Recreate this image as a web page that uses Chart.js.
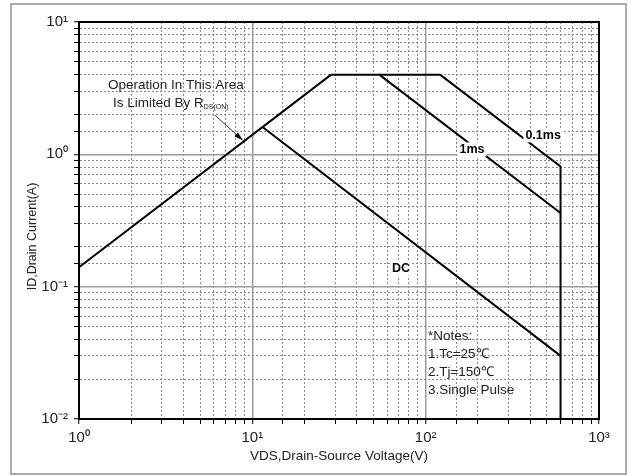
<!DOCTYPE html>
<html>
<head>
<meta charset="utf-8">
<script src="https://cdn.jsdelivr.net/npm/chart.js@4.4.0/dist/chart.umd.min.js"></script>
<style>
  body { margin: 0; background: #fff; }
  canvas { display: block; }
</style>
</head>
<body>
<canvas id="soa" width="632" height="476"></canvas>
<script>
// corner points of the SOA curves (volts, amps)
const rdsVolts = [1, 28.5];
const rdsAmps = [0.14, 4];
const limitVolts = [28.5, 121];
const limitAmps = [4, 4];
const ms01Volts = [121, 600, 600];
const ms01Amps = [4, 0.81, 0.01];
const ms1Volts = [54, 600];
const ms1Amps = [4, 0.36];
const dcVolts = [11.5, 600];
const dcAmps = [1.6, 0.03];

const xDecades = [1, 10, 100, 1000];
const xTickLabels = ['10⁰', '10¹', '10²', '10³'];
const yDecades = [0.01, 0.1, 1, 10];
const yTickLabels = ['10⁻²', '10⁻¹', '10⁰', '10¹'];

// labels next to the curves (volts, amps)
const curveNames = ['0.1ms', '1ms', 'DC'];
const curveNameVolts = [476, 185, 72];
const curveNameAmps = [1.39, 1.09, 0.137];

const notes = ['*Notes:', '1.Tc=25\u2103', '2.Tj=150\u2103', '3.Single Pulse'];

const FONT = "'Liberation Sans', Arial, sans-serif";

function pts(xs, ys) {
  return xs.map((x, i) => ({ x: x, y: ys[i] }));
}

function isDecade(v) {
  const l = Math.log10(v);
  return Math.abs(l - Math.round(l)) < 1e-6;
}

function decadeLabel(v, decades, labels) {
  if (!isDecade(v)) return '';
  const e = Math.round(Math.log10(v));
  const idx = decades.findIndex(d => Math.round(Math.log10(d)) === e);
  return idx < 0 ? '' : labels[idx];
}

function curve(data) {
  return {
    data: data,
    showLine: true,
    borderColor: '#000',
    borderWidth: 2,
    pointRadius: 0,
    fill: false,
    tension: 0
  };
}

function gridFor() {
  return {
    color: c => (c.tick && isDecade(c.tick.value)) ? '#9c9c9c' : '#8a8a8a',
    lineWidth: c => (c.tick && isDecade(c.tick.value)) ? 1.5 : 1,
    tickColor: '#000',
    tickLength: 5,
    tickWidth: 1,
    tickBorderDash: []
  };
}

function borderFor() {
  return {
    display: true,
    color: '#000',
    width: 2,
    dash: c => (c.tick && !isDecade(c.tick.value)) ? [2, 2] : []
  };
}

const extras = {
  id: 'extras',
  beforeDraw(chart) {
    const ctx = chart.ctx;
    ctx.save();
    ctx.fillStyle = '#fff';
    ctx.fillRect(0, 0, chart.width, chart.height);
    ctx.strokeStyle = '#ababab';
    ctx.lineWidth = 2;
    ctx.strokeRect(11, 4, 615, 470);
    ctx.restore();
  },
  afterDatasetsDraw(chart) {
    const ctx = chart.ctx;
    const xs = chart.scales.x, ys = chart.scales.y;
    const a = chart.chartArea;
    ctx.save();

    // curve names on white patches
    ctx.font = 'bold 12.5px ' + FONT;
    ctx.textAlign = 'center';
    ctx.textBaseline = 'middle';
    curveNames.forEach((t, i) => {
      const px = xs.getPixelForValue(curveNameVolts[i]);
      const py = ys.getPixelForValue(curveNameAmps[i]);
      const w = ctx.measureText(t).width;
      ctx.fillStyle = '#fff';
      ctx.fillRect(px - w / 2 - 2, py - 7, w + 4, 14);
      ctx.fillStyle = '#000';
      ctx.fillText(t, px, py);
    });

    // Rds(on) note with arrow
    ctx.fillStyle = '#222';
    ctx.font = '13.5px ' + FONT;
    ctx.textAlign = 'left';
    ctx.fillText('Operation In This Area', xs.getPixelForValue(1.47), ys.getPixelForValue(3.33));
    const lx = xs.getPixelForValue(1.57), ly = ys.getPixelForValue(2.44);
    ctx.fillText('Is Limited By R', lx, ly);
    const rw = ctx.measureText('Is Limited By R').width;
    ctx.font = '7px ' + FONT;
    ctx.fillText('DS(ON)', lx + rw, ly + 4);

    const x0 = xs.getPixelForValue(6.1), y0 = ys.getPixelForValue(1.97);
    const x1 = xs.getPixelForValue(8.8), y1 = ys.getPixelForValue(1.28);
    ctx.strokeStyle = '#333';
    ctx.lineWidth = 1;
    ctx.beginPath();
    ctx.moveTo(x0, y0);
    ctx.lineTo(x1, y1);
    ctx.stroke();
    const ang = Math.atan2(y1 - y0, x1 - x0);
    ctx.fillStyle = '#000';
    ctx.beginPath();
    ctx.moveTo(x1, y1);
    ctx.lineTo(x1 - 9 * Math.cos(ang - 0.3), y1 - 9 * Math.sin(ang - 0.3));
    ctx.lineTo(x1 - 9 * Math.cos(ang + 0.3), y1 - 9 * Math.sin(ang + 0.3));
    ctx.closePath();
    ctx.fill();

    // notes block
    ctx.fillStyle = '#222';
    ctx.font = '13.5px ' + FONT;
    ctx.textAlign = 'left';
    ctx.textBaseline = 'middle';
    const nx = xs.getPixelForValue(103);
    notes.forEach((t, i) => {
      ctx.fillText(t, nx, ys.getPixelForValue(0.0425) + i * 18);
    });

    // y axis title, a little below the middle as in the source
    ctx.save();
    ctx.translate(33, (a.top + a.bottom) / 2 + 16);
    ctx.rotate(-Math.PI / 2);
    ctx.font = '12.5px ' + FONT;
    ctx.textAlign = 'center';
    ctx.fillText('ID,Drain Current(A)', 0, 0);
    ctx.restore();

    // frame of the plot area
    ctx.strokeStyle = '#000';
    ctx.lineWidth = 2;
    ctx.strokeRect(a.left, a.top, a.right - a.left, a.bottom - a.top);
    ctx.restore();
  }
};

new Chart(document.getElementById('soa'), {
  type: 'scatter',
  data: {
    datasets: [
      curve(pts(rdsVolts, rdsAmps)),
      curve(pts(limitVolts, limitAmps)),
      curve(pts(ms01Volts, ms01Amps)),
      curve(pts(ms1Volts, ms1Amps)),
      curve(pts(dcVolts, dcAmps))
    ]
  },
  options: {
    responsive: false,
    animation: false,
    devicePixelRatio: 1,
    layout: { padding: { top: 22, right: 33, left: 0, bottom: 0 } },
    plugins: { legend: { display: false }, tooltip: { enabled: false } },
    scales: {
      x: {
        type: 'logarithmic',
        min: 1,
        max: 1000,
        afterFit: s => { s.height = 57; },
        ticks: {
          autoSkip: false,
          maxRotation: 0,
          padding: 5,
          color: '#222',
          font: { family: FONT, size: 15 },
          callback: v => decadeLabel(v, xDecades, xTickLabels)
        },
        grid: gridFor(),
        border: borderFor(),
        title: {
          display: true,
          text: 'VDS,Drain-Source Voltage(V)',
          color: '#222',
          font: { family: FONT, size: 13.5 },
          padding: { top: 0, bottom: 12 }
        }
      },
      y: {
        type: 'logarithmic',
        min: 0.01,
        max: 10,
        afterFit: s => { s.width = 79; },
        ticks: {
          autoSkip: false,
          padding: 6,
          color: '#222',
          font: { family: FONT, size: 15 },
          callback: v => decadeLabel(v, yDecades, yTickLabels)
        },
        grid: gridFor(),
        border: borderFor()
      }
    }
  },
  plugins: [extras]
});
</script>
</body>
</html>
